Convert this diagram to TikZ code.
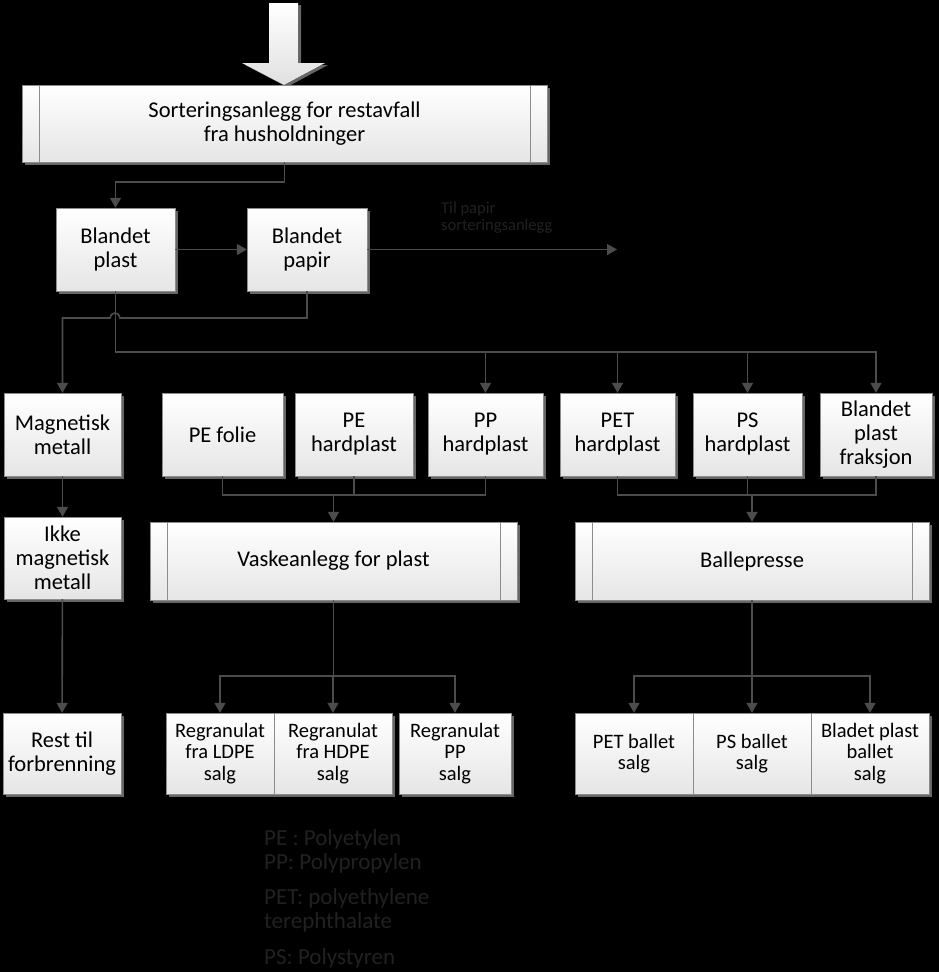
\documentclass[tikz,border=0pt]{standalone}
\usepackage{fontspec}
\setmainfont{Carlito}
\usepackage{tikz}
\usetikzlibrary{arrows.meta, shadows}

\tikzset{
  box/.style={draw=black!45, top color=white, bottom color=black!10, align=center,
    inner sep=2pt, font=\fontsize{22.5}{24}\selectfont,
    drop shadow={shadow xshift=3pt, shadow yshift=-3pt, fill=black!60, opacity=1}},
  proc/.style={box, path picture={
    \draw[black!45] ([xshift=17pt]path picture bounding box.north west) -- ([xshift=17pt]path picture bounding box.south west)
      ([xshift=-17pt]path picture bounding box.north east) -- ([xshift=-17pt]path picture bounding box.south east);}},
  wire/.style={draw=black!70, line width=1.6pt},
  flow/.style={wire, -{Triangle[length=10pt,width=11pt]}},
  note/.style={text=black!87, align=left, inner sep=0pt},
}

\begin{document}
\begin{tikzpicture}[x=1pt,y=-1pt]
    \fill[black] (0,0) rectangle (939,972);
    \useasboundingbox (0,0) rectangle (939,972);

    % input arrow
    \fill[top color=white, bottom color=black!12,
      drop shadow={shadow xshift=3pt, shadow yshift=-2pt, fill=black!60, opacity=1}]
      (269,3) -- (298,3) -- (298,63) -- (325,63) -- (284,85) -- (242,63) -- (269,63) -- cycle;

    % sorting plant
    \node[proc, minimum width=525pt, minimum height=77pt] (top) at (284.5,123.5) {Sorteringsanlegg for restavfall\\fra husholdninger};
    \node[box, minimum width=119pt, minimum height=83pt] (plast) at (115.5,249.5) {Blandet\\plast};
    \node[box, minimum width=120pt, minimum height=83pt] (papir) at (307,249.5) {Blandet\\papir};
    \coordinate (papirout) at (617,249.5);
    \node[note, anchor=north west, font=\fontsize{16.5}{17}\selectfont] (tilpapir) at (441,202) {Til papir\\sorteringsanlegg};

    % fractions
    \foreach \n/\x/\w/\t in {magn/62.5/117/{Magnetisk\\metall}, pefolie/222.5/121/{PE folie},
        pehard/354/118/{PE\\hardplast}, pphard/485.5/115/{PP\\hardplast}, pethard/617.5/115/{PET\\hardplast},
        pshard/747.5/109/{PS\\hardplast}, bland/876/112/{Blandet\\plast\\fraksjon}} {
        \node[box, minimum width=\w pt, minimum height=83pt] (\n) at (\x,434.5) {\t};
    }
    \node[box, minimum width=117pt, minimum height=82pt] (ikke) at (62.5,558) {Ikke\\magnetisk\\metall};
    \node[proc, minimum width=367pt, minimum height=78pt] (vask) at (333.5,561) {Vaskeanlegg for plast};
    \node[proc, minimum width=354pt, minimum height=78pt] (balle) at (752,561) {Ballepresse};

    % products
    \node[box, minimum width=118pt, minimum height=81pt] (rest) at (62,753.5) {Rest til\\forbrenning};
    \foreach \n/\x/\w/\t in {ldpe/220/108/{Regranulat\\fra LDPE\\salg},
        hdpe/333/118/{Regranulat\\fra HDPE\\salg}, ppsalg/455/112/{Regranulat\\PP\\salg},
        petsalg/634/118/{PET ballet\\salg}, pssalg/752/118/{PS ballet\\salg}, blsalg/870/118/{Bladet plast\\ballet\\salg}} {
        \node[box, minimum width=\w pt, minimum height=81pt, font=\fontsize{20.5}{21.5}\selectfont] (\n) at (\x,753.5) {\t};
    }

    \node[note, anchor=north west, font=\fontsize{23}{24}\selectfont] (legend) at (264,829)
      {PE : Polyetylen\\PP: Polypropylen\\[11pt]PET: polyethylene\\terephthalate\\[12pt]PS: Polystyren};

    % connectors
    \draw[flow] (top.south) -- ++(0,20) -| (plast.north);
    \draw[flow] (plast) -- (papir);
    \draw[flow] (papir) -- (papirout);

    \coordinate (pbus) at (115.5,352);
    \draw[flow] (plast.south) -- (pbus) -| (bland.north);
    \foreach \n in {pphard,pethard,pshard}
        \draw[flow] (pbus -| \n.north) -- (\n.north);
    \draw[flow] (papir.south) |- (120,318) arc[start angle=0, end angle=180, radius=5pt] -| (magn.north);

    \draw[flow] (magn) -- (ikke);
    \draw[flow] (ikke) -- (rest);

    \coordinate (vin) at (333.5,495);
    \foreach \n in {pefolie,pehard,pphard}
        \draw[wire] (\n.south) |- (vin);
    \draw[flow] (vin) -- (vask.north);
    \coordinate (bin) at (752,495);
    \foreach \n in {pethard,pshard,bland}
        \draw[wire] (\n.south) |- (bin);
    \draw[flow] (bin) -- (balle.north);

    \coordinate (vout) at (333.5,676);
    \draw[wire] (vask.south) -- (vout);
    \foreach \n in {ldpe,hdpe,ppsalg}
        \draw[flow] (vout) -| (\n.north);
    \coordinate (bout) at (752,676);
    \draw[wire] (balle.south) -- (bout);
    \foreach \n in {petsalg,pssalg,blsalg}
        \draw[flow] (bout) -| (\n.north);
\end{tikzpicture}
\end{document}
